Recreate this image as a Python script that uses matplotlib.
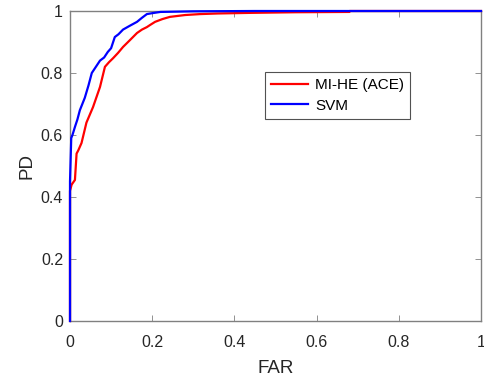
import matplotlib
matplotlib.use("Agg")
import matplotlib.pyplot as plt

# ROC curves: false alarm rate vs probability of detection
far_ace = [0, 0, 0.004, 0.012, 0.016, 0.02, 0.028, 0.04, 0.056, 0.073, 0.085, 0.095,
           0.105, 0.117, 0.129, 0.145, 0.163, 0.175, 0.187, 0.195, 0.207, 0.225, 0.243,
           0.28, 0.316, 0.36, 0.44, 0.55, 0.68, 0.68, 1.0]
pd_ace = [0, 0.42, 0.44, 0.455, 0.54, 0.55, 0.574, 0.64, 0.69, 0.755, 0.82, 0.835,
          0.848, 0.865, 0.884, 0.905, 0.929, 0.94, 0.948, 0.955, 0.965, 0.974, 0.981,
          0.987, 0.99, 0.992, 0.994, 0.996, 0.997, 1.0, 1.0]

far_svm = [0, 0, 0.003, 0.006, 0.012, 0.018, 0.024, 0.030, 0.036, 0.045, 0.053, 0.063,
           0.073, 0.083, 0.092, 0.100, 0.109, 0.118, 0.129, 0.145, 0.163, 0.175, 0.187,
           0.20, 0.22, 0.26, 0.30, 0.45, 1.0]
pd_svm = [0, 0.45, 0.59, 0.60, 0.626, 0.65, 0.68, 0.70, 0.72, 0.76, 0.80, 0.82,
          0.84, 0.85, 0.868, 0.88, 0.916, 0.925, 0.94, 0.952, 0.965, 0.978, 0.99,
          0.993, 0.997, 0.998, 0.999, 1.0, 1.0]

labels = ["MI-HE (ACE)", "SVM"]
ticks = [0, 0.2, 0.4, 0.6, 0.8, 1]
tick_labels = ["0", "0.2", "0.4", "0.6", "0.8", "1"]

plt.rcParams["font.family"] = ["Liberation Sans", "DejaVu Sans"]
axis_gray = "#262626"

fig = plt.figure(figsize=(4.85, 3.81), dpi=100)
ax = fig.add_axes([70 / 485, 60 / 381, 411 / 485, 310 / 381])

ax.plot(far_ace, pd_ace, color=(1, 0, 0), lw=1.6, label=labels[0],
        clip_on=False, zorder=3)
ax.plot(far_svm, pd_svm, color=(0, 0, 1), lw=1.6, label=labels[1],
        clip_on=False, zorder=4)

ax.set_xlim(0, 1)
ax.set_ylim(0, 1)
ax.set_xticks(ticks)
ax.set_xticklabels(tick_labels)
ax.set_yticks(ticks)
ax.set_yticklabels(tick_labels)
ax.tick_params(direction="in", length=4, width=0.6, colors="#808080",
               labelcolor=axis_gray, labelsize=11.5, top=True, right=True)
ax.tick_params(axis="x", pad=10)
ax.tick_params(axis="y", pad=5)
for s in ax.spines.values():
    s.set_color("#808080")
    s.set_linewidth(1.0)
    s.set_zorder(2)

ax.set_xlabel("FAR", fontsize=13.5, color=axis_gray, labelpad=7)
ax.set_ylabel("PD", fontsize=13.5, color=axis_gray, labelpad=4)

leg = ax.legend(loc="upper left", bbox_to_anchor=(195 / 411, 249 / 310), fontsize=11,
                frameon=True, fancybox=False, handlelength=2.4, borderpad=0.42,
                labelspacing=0.42, handletextpad=0.45, borderaxespad=0)
leg.get_frame().set_edgecolor(axis_gray)
leg.get_frame().set_linewidth(0.8)

fig.savefig("out.png", dpi=100)
